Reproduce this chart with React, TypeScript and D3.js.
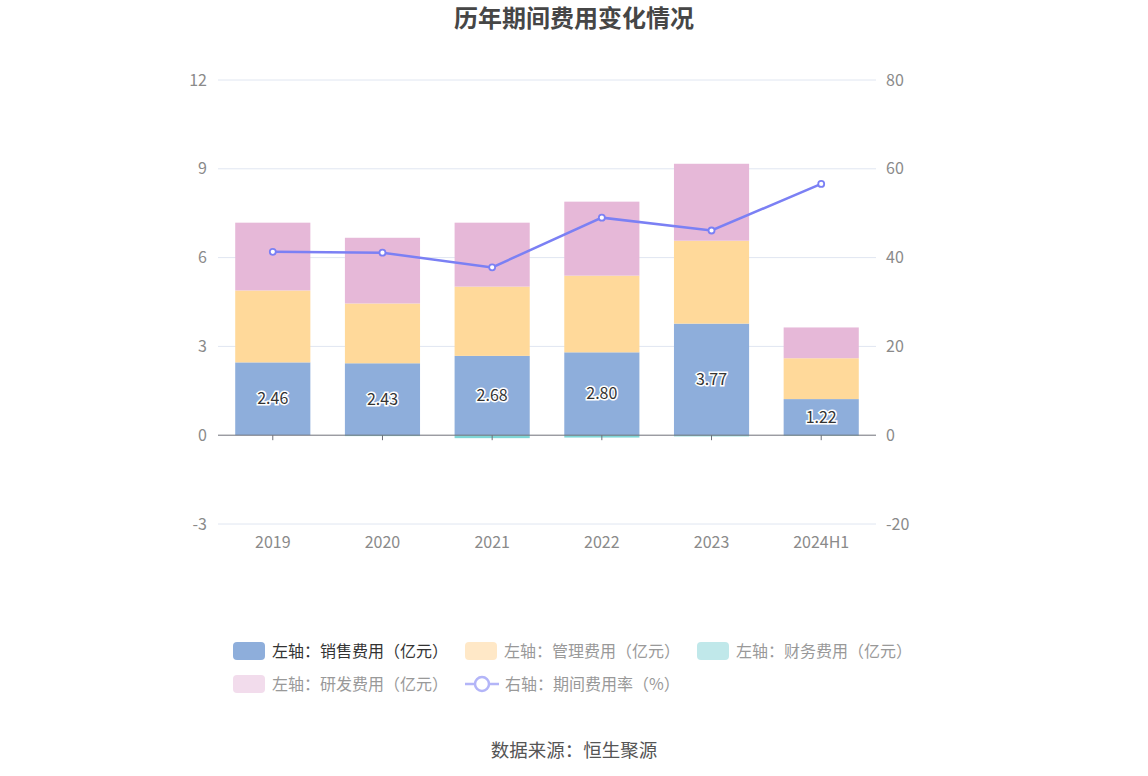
import { useEffect, useRef } from "react";
import * as d3 from "d3";

const years = ["2019", "2020", "2021", "2022", "2023", "2024H1"];
const salesExp = [2.46, 2.43, 2.68, 2.8, 3.77, 1.22];
const adminExp = [2.43, 2.02, 2.34, 2.59, 2.8, 1.38];
const financeExp = [0.0, -0.03, -0.1, -0.08, -0.04, -0.02];
const rdExp = [2.29, 2.22, 2.16, 2.5, 2.6, 1.04];
const expenseRate = [41.3, 41.1, 37.8, 49.0, 46.1, 56.6];
const leftTicks = [-3, 0, 3, 6, 9, 12];
const rightTicks = [-20, 0, 20, 40, 60, 80];

const barColors = ["#8eaedb", "#ffd99a", "#7fd6d6", "#e6b8d8"];
const legendColors = ["#8eaedb", "#ffe8c7", "#c0e8ea", "#f2dcec"];
const lineColor = "#7b80f4";
const font = "'Microsoft YaHei', 'Noto Sans CJK SC', sans-serif";

export default function App() {
  const svgRef = useRef<SVGSVGElement>(null);

  useEffect(() => {
    if (!svgRef.current) return;
    const svg = d3.select(svgRef.current);
    svg.selectAll("*").remove();

    const left = 218, right = 876, top = 80, bottom = 524;

    const x = d3.scaleBand().domain(years).range([left, right]).paddingInner(0.315).paddingOuter(0.157);
    const y = d3.scaleLinear().domain([-3, 12]).range([bottom, top]);
    const yr = d3.scaleLinear().domain([-20, 80]).range([bottom, top]);

    // title
    svg.append("text")
      .attr("x", 574).attr("y", 27)
      .attr("text-anchor", "middle")
      .attr("font-family", font)
      .attr("font-size", 24).attr("font-weight", "bold")
      .attr("fill", "#464646")
      .text("历年期间费用变化情况");

    // grid
    leftTicks.filter(t => t !== 0).forEach(t => {
      svg.append("line")
        .attr("x1", left).attr("x2", right)
        .attr("y1", y(t)).attr("y2", y(t))
        .attr("stroke", "#e0e6f1").attr("stroke-width", 1);
    });

    leftTicks.forEach(t => {
      svg.append("text")
        .attr("x", 207).attr("y", y(t)).attr("dy", "0.35em")
        .attr("text-anchor", "end")
        .attr("font-family", font).attr("font-size", 16)
        .attr("fill", "#8a8a8a")
        .text(t);
    });
    rightTicks.forEach(t => {
      svg.append("text")
        .attr("x", 886).attr("y", yr(t)).attr("dy", "0.35em")
        .attr("text-anchor", "start")
        .attr("font-family", font).attr("font-size", 16)
        .attr("fill", "#8a8a8a")
        .text(t);
    });

    // stacked bars
    const series = [salesExp, adminExp, financeExp, rdExp];
    years.forEach((yr0, i) => {
      let pos = 0, neg = 0;
      series.forEach((s, k) => {
        const v = s[i];
        let y0, y1;
        if (v >= 0) { y0 = pos; y1 = pos + v; pos = y1; }
        else { y0 = neg; y1 = neg + v; neg = y1; }
        if (v === 0) return;
        svg.append("rect")
          .attr("x", x(yr0)!)
          .attr("width", x.bandwidth())
          .attr("y", y(Math.max(y0, y1)))
          .attr("height", Math.abs(y(y0) - y(y1)))
          .attr("fill", barColors[k]);
      });
    });

    // zero axis
    svg.append("line")
      .attr("x1", left).attr("x2", right)
      .attr("y1", y(0)).attr("y2", y(0))
      .attr("stroke", "#6e7079").attr("stroke-width", 1);
    years.forEach(yv => {
      const cx = x(yv)! + x.bandwidth() / 2;
      svg.append("line")
        .attr("x1", cx).attr("x2", cx)
        .attr("y1", y(0)).attr("y2", y(0) + 5)
        .attr("stroke", "#6e7079");
      svg.append("text")
        .attr("x", cx).attr("y", 548)
        .attr("text-anchor", "middle")
        .attr("font-family", font).attr("font-size", 16)
        .attr("fill", "#8a8a8a")
        .text(yv);
    });

    // sales labels
    years.forEach((yv, i) => {
      const cx = x(yv)! + x.bandwidth() / 2;
      svg.append("text")
        .attr("x", cx).attr("y", y(salesExp[i] / 2)).attr("dy", "0.35em")
        .attr("text-anchor", "middle")
        .attr("font-family", font).attr("font-size", 16)
        .attr("fill", "#333")
        .attr("stroke", "#fff").attr("stroke-width", 3)
        .attr("paint-order", "stroke")
        .text(salesExp[i].toFixed(2));
    });

    // line
    const line = d3.line<number>()
      .x((_, i) => x(years[i])! + x.bandwidth() / 2)
      .y(d => yr(d));
    svg.append("path")
      .datum(expenseRate)
      .attr("d", line)
      .attr("fill", "none")
      .attr("stroke", lineColor).attr("stroke-width", 2.5);
    expenseRate.forEach((v, i) => {
      svg.append("circle")
        .attr("cx", x(years[i])! + x.bandwidth() / 2)
        .attr("cy", yr(v))
        .attr("r", 3)
        .attr("fill", "#fff")
        .attr("stroke", lineColor).attr("stroke-width", 1.8);
    });

    // legend
    const legendItems = [
      { label: "左轴：销售费用（亿元）", x: 233, y: 651, k: 0, active: true },
      { label: "左轴：管理费用（亿元）", x: 465, y: 651, k: 1, active: false },
      { label: "左轴：财务费用（亿元）", x: 697, y: 651, k: 2, active: false },
      { label: "左轴：研发费用（亿元）", x: 233, y: 684, k: 3, active: false },
    ];
    legendItems.forEach(it => {
      svg.append("rect")
        .attr("x", it.x).attr("y", it.y - 9)
        .attr("width", 32).attr("height", 18)
        .attr("rx", 4)
        .attr("fill", legendColors[it.k]);
      svg.append("text")
        .attr("x", it.x + 39).attr("y", it.y).attr("dy", "0.35em")
        .attr("font-family", font).attr("font-size", 16)
        .attr("fill", it.active ? "#333" : "#999")
        .text(it.label);
    });
    svg.append("line")
      .attr("x1", 465).attr("x2", 499)
      .attr("y1", 684).attr("y2", 684)
      .attr("stroke", "#b3b5f8").attr("stroke-width", 2.5);
    svg.append("circle")
      .attr("cx", 482).attr("cy", 684).attr("r", 7)
      .attr("fill", "#fff")
      .attr("stroke", "#b3b5f8").attr("stroke-width", 2.5);
    svg.append("text")
      .attr("x", 505).attr("y", 684).attr("dy", "0.35em")
      .attr("font-family", font).attr("font-size", 16)
      .attr("fill", "#999")
      .text("右轴：期间费用率（%）");

    // source
    svg.append("text")
      .attr("x", 574).attr("y", 757)
      .attr("text-anchor", "middle")
      .attr("font-family", font).attr("font-size", 18.5)
      .attr("fill", "#555")
      .text("数据来源：恒生聚源");
  }, []);

  return (
    <svg
      ref={svgRef}
      width={1148}
      height={776}
      style={{ position: "absolute", left: 0, top: 0, background: "#fff" }}
    />
  );
}
